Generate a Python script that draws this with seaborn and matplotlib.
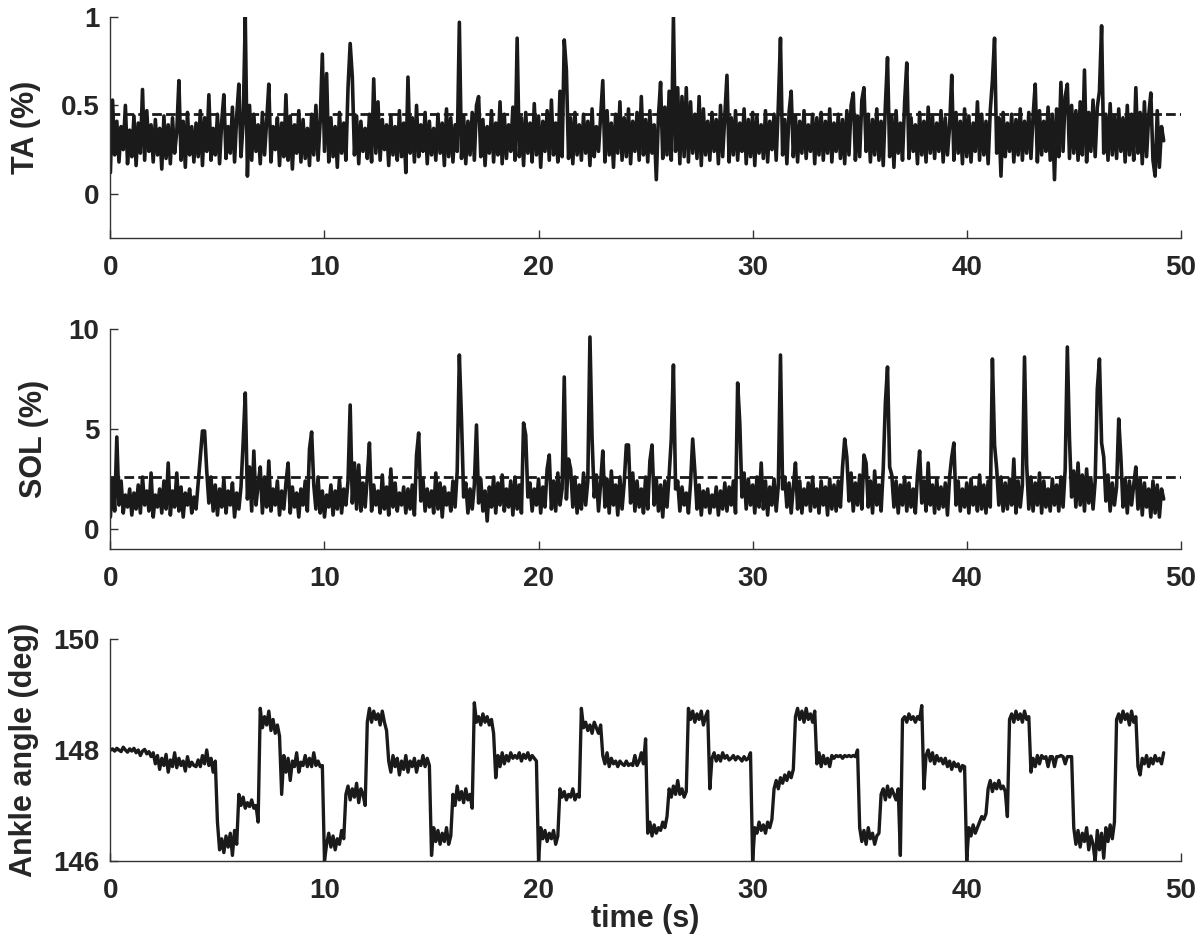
import numpy as np
import matplotlib.pyplot as plt
import seaborn as sns

# ------------------ Data (0.1 s steps) ------------------
dt = 0.1

# TA EMG (%), one row per second
ta = [
    0.12, 0.53, 0.22, 0.41, 0.18, 0.38, 0.25, 0.50, 0.17, 0.36,
    0.21, 0.44, 0.16, 0.40, 0.23, 0.59, 0.19, 0.47, 0.24, 0.39,
    0.18, 0.42, 0.22, 0.37, 0.14, 0.44, 0.20, 0.39, 0.17, 0.43,
    0.23, 0.35, 0.64, 0.19, 0.41, 0.15, 0.46, 0.22, 0.38, 0.18,
    0.40, 0.21, 0.47, 0.16, 0.43, 0.24, 0.56, 0.19, 0.37, 0.22,
    0.45, 0.17, 0.41, 0.56, 0.20, 0.38, 0.23, 0.49, 0.18, 0.44,
    0.62, 0.21, 0.40, 1.00, 0.10, 0.50, 0.19, 0.45, 0.24, 0.39,
    0.17, 0.46, 0.22, 0.41, 0.62, 0.18, 0.38, 0.25, 0.43, 0.16,
    0.40, 0.21, 0.56, 0.19, 0.44, 0.14, 0.39, 0.23, 0.47, 0.18,
    0.42, 0.20, 0.37, 0.16, 0.45, 0.22, 0.50, 0.19, 0.41, 0.79,
    0.24, 0.68, 0.18, 0.43, 0.21, 0.38, 0.15, 0.46, 0.23, 0.40,
    0.19, 0.60, 0.85, 0.66, 0.22, 0.44, 0.17, 0.41, 0.24, 0.37,
    0.20, 0.45, 0.18, 0.65, 0.23, 0.52, 0.19, 0.42, 0.25, 0.39,
    0.16, 0.44, 0.22, 0.38, 0.19, 0.47, 0.21, 0.40, 0.12, 0.66,
    0.23, 0.43, 0.18, 0.50, 0.21, 0.39, 0.24, 0.46, 0.17, 0.41,
    0.22, 0.37, 0.19, 0.45, 0.23, 0.40, 0.16, 0.48, 0.21, 0.43,
    0.18, 0.39, 0.24, 0.97, 0.20, 0.44, 0.17, 0.41, 0.22, 0.46,
    0.19, 0.50, 0.55, 0.21, 0.42, 0.16, 0.38, 0.23, 0.47, 0.18,
    0.40, 0.22, 0.52, 0.17, 0.45, 0.20, 0.39, 0.24, 0.49, 0.19,
    0.88, 0.21, 0.43, 0.16, 0.46, 0.23, 0.40, 0.18, 0.51, 0.22,
    0.44, 0.15, 0.41, 0.24, 0.47, 0.19, 0.53, 0.22, 0.40, 0.18,
    0.58, 0.21, 0.87, 0.70, 0.20, 0.43, 0.17, 0.46, 0.22, 0.39,
    0.19, 0.45, 0.23, 0.41, 0.16, 0.48, 0.21, 0.38, 0.24, 0.44,
    0.64, 0.18, 0.47, 0.22, 0.40, 0.15, 0.45, 0.23, 0.52, 0.19,
    0.43, 0.21, 0.48, 0.17, 0.41, 0.24, 0.46, 0.19, 0.55, 0.22,
    0.42, 0.18, 0.47, 0.23, 0.39, 0.08, 0.44, 0.63, 0.20, 0.49,
    0.22, 0.58, 0.19, 1.00, 0.24, 0.60, 0.17, 0.55, 0.21, 0.60,
    0.18, 0.52, 0.23, 0.45, 0.20, 0.55, 0.16, 0.48, 0.22, 0.41,
    0.19, 0.46, 0.24, 0.42, 0.17, 0.50, 0.21, 0.44, 0.67, 0.18,
    0.43, 0.22, 0.47, 0.19, 0.40, 0.24, 0.48, 0.17, 0.42, 0.21,
    0.46, 0.16, 0.44, 0.23, 0.39, 0.20, 0.47, 0.18, 0.41, 0.25,
    0.45, 0.19, 0.50, 0.88, 0.22, 0.42, 0.17, 0.46, 0.58, 0.21,
    0.44, 0.18, 0.41, 0.23, 0.47, 0.20, 0.39, 0.24, 0.45, 0.17,
    0.43, 0.22, 0.46, 0.19, 0.41, 0.23, 0.48, 0.18, 0.40, 0.24,
    0.45, 0.20, 0.42, 0.17, 0.47, 0.22, 0.50, 0.57, 0.19, 0.44,
    0.21, 0.53, 0.60, 0.24, 0.45, 0.18, 0.42, 0.22, 0.48, 0.19,
    0.41, 0.16, 0.50, 0.77, 0.21, 0.44, 0.15, 0.47, 0.23, 0.40,
    0.19, 0.52, 0.74, 0.20, 0.43, 0.24, 0.39, 0.17, 0.46, 0.22,
    0.41, 0.18, 0.49, 0.23, 0.44, 0.20, 0.40, 0.24, 0.47, 0.18,
    0.43, 0.22, 0.38, 0.67, 0.19, 0.46, 0.23, 0.41, 0.17, 0.48,
    0.21, 0.44, 0.18, 0.40, 0.24, 0.52, 0.19, 0.45, 0.22, 0.41,
    0.17, 0.47, 0.64, 0.88, 0.23, 0.43, 0.10, 0.46, 0.21, 0.40,
    0.24, 0.45, 0.18, 0.42, 0.22, 0.48, 0.19, 0.41, 0.23, 0.46,
    0.20, 0.44, 0.62, 0.18, 0.47, 0.22, 0.41, 0.24, 0.49, 0.19,
    0.45, 0.08, 0.48, 0.21, 0.63, 0.24, 0.55, 0.62, 0.20, 0.50,
    0.23, 0.47, 0.19, 0.52, 0.22, 0.70, 0.18, 0.46, 0.24, 0.53,
    0.21, 0.49, 0.58, 0.95, 0.23, 0.45, 0.19, 0.51, 0.22, 0.44,
    0.20, 0.48, 0.24, 0.43, 0.18, 0.50, 0.22, 0.45, 0.19, 0.60,
    0.23, 0.46, 0.17, 0.52, 0.21, 0.44, 0.57, 0.19, 0.10, 0.47,
    0.15, 0.38, 0.30,
]

# SOL EMG (%), one row per second
sol = [
    0.6, 2.5, 0.9, 4.6, 1.2, 2.4, 0.8, 1.7, 1.1, 2.0,
    0.7, 1.8, 1.0, 2.2, 0.8, 2.6, 1.2, 1.9, 0.9, 2.8,
    0.6, 1.7, 1.1, 2.0, 0.8, 2.4, 1.0, 3.3, 0.7, 1.9,
    1.1, 2.8, 0.9, 2.1, 0.6, 1.8, 1.2, 2.0, 0.8, 1.6,
    1.0, 2.3, 3.6, 4.9, 4.9, 2.9, 1.3, 2.6, 0.9, 2.2,
    0.7, 2.0, 1.1, 2.5, 0.8, 1.9, 1.2, 2.3, 0.6, 1.8,
    1.0, 2.1, 4.3, 6.8, 1.5, 3.1, 0.9, 3.9, 1.2, 2.2,
    3.1, 0.8, 2.6, 1.1, 3.4, 0.9, 2.0, 1.2, 2.4, 0.7,
    1.9, 1.0, 2.3, 3.3, 0.8, 2.1, 1.1, 1.8, 0.6, 2.0,
    1.2, 2.4, 0.9, 4.0, 4.85, 2.2, 1.0, 2.6, 0.8, 1.9,
    0.6, 1.7, 1.1, 2.2, 0.7, 1.9, 1.0, 2.5, 0.8, 2.0,
    1.2, 2.4, 6.2, 1.3, 3.3, 1.0, 3.2, 0.9, 2.3, 1.1,
    2.6, 4.3, 0.9, 2.2, 1.2, 1.9, 0.8, 2.7, 1.0, 2.1,
    0.7, 3.0, 1.1, 2.3, 0.9, 1.8, 1.2, 2.1, 0.8, 2.0,
    1.0, 2.2, 0.7, 3.7, 4.8, 1.4, 2.5, 0.9, 2.0, 1.1,
    1.9, 0.8, 2.8, 1.0, 2.3, 0.6, 2.1, 1.2, 1.8, 0.9,
    2.4, 1.1, 2.9, 8.7, 5.5, 1.6, 2.3, 0.8, 2.0, 1.0,
    2.2, 5.2, 1.3, 2.5, 0.9, 1.9, 0.4, 2.1, 1.1, 2.6,
    0.8, 2.3, 1.2, 2.7, 0.9, 2.0, 1.1, 2.4, 0.7, 2.6,
    1.0, 2.2, 0.8, 5.3, 4.7, 1.6, 2.3, 0.9, 2.0, 1.2,
    2.5, 0.8, 2.1, 1.1, 3.0, 3.7, 1.0, 2.4, 0.9, 2.8,
    1.2, 2.0, 7.6, 1.5, 3.5, 3.0, 1.1, 2.6, 0.8, 2.2,
    1.0, 2.8, 1.2, 2.4, 9.6, 4.5, 1.6, 2.7, 0.9, 2.3,
    3.9, 1.1, 2.5, 0.8, 2.9, 1.2, 2.2, 0.7, 2.6, 1.0,
    2.3, 4.2, 4.2, 1.3, 2.8, 0.9, 2.4, 1.1, 2.0, 0.8,
    2.6, 1.0, 3.4, 4.2, 1.2, 2.5, 0.9, 2.2, 0.6, 2.4,
    1.1, 2.7, 4.5, 8.2, 2.0, 2.4, 0.9, 2.1, 1.2, 1.8,
    0.8, 2.3, 4.5, 2.9, 1.0, 2.2, 0.7, 1.9, 1.1, 2.0,
    0.8, 1.7, 1.1, 2.1, 0.7, 1.9, 1.0, 2.3, 0.9, 2.1,
    1.2, 2.4, 0.8, 7.3, 5.3, 1.6, 2.8, 1.0, 2.5, 1.2,
    2.2, 0.8, 2.6, 1.1, 3.3, 1.0, 2.4, 0.7, 2.1, 1.2,
    2.5, 0.9, 2.2, 8.7, 2.0, 2.6, 1.1, 2.3, 0.8, 2.1,
    3.3, 1.0, 2.4, 0.8, 2.0, 1.2, 2.3, 0.9, 2.6, 1.1,
    2.0, 0.8, 2.4, 1.2, 2.1, 0.7, 2.5, 1.0, 2.2, 0.9,
    2.4, 1.1, 3.1, 4.5, 3.6, 1.4, 2.8, 0.9, 2.3, 1.2,
    2.7, 1.0, 3.7, 3.3, 1.1, 2.4, 0.8, 2.9, 1.2, 2.2,
    0.9, 3.0, 6.3, 8.1, 3.1, 2.7, 1.1, 2.4, 0.8, 2.2,
    1.2, 2.6, 0.9, 2.3, 1.1, 2.0, 0.8, 2.7, 3.9, 1.3,
    2.4, 0.9, 3.3, 1.2, 2.2, 0.8, 2.5, 1.0, 2.1, 1.1,
    2.3, 0.7, 2.6, 3.6, 4.3, 1.2, 2.4, 0.9, 2.0, 1.1,
    2.3, 0.8, 2.5, 1.2, 2.1, 0.9, 2.7, 1.0, 2.2, 0.8,
    2.4, 1.1, 8.5, 4.2, 3.0, 1.2, 2.6, 0.9, 2.3, 1.0,
    2.5, 1.2, 3.5, 0.8, 2.4, 1.1, 2.2, 8.6, 3.2, 1.0,
    2.6, 0.9, 2.3, 1.2, 2.8, 0.8, 2.4, 1.1, 2.0, 0.9,
    2.5, 1.2, 2.2, 0.9, 2.6, 1.1, 3.0, 9.1, 4.5, 1.6,
    2.9, 1.1, 3.3, 1.2, 2.7, 0.9, 3.0, 1.3, 2.5, 1.0,
    2.4, 7.0, 8.5, 4.3, 3.6, 1.4, 2.7, 0.9, 2.3, 1.2,
    2.1, 5.5, 3.6, 1.1, 2.5, 0.8, 2.4, 1.2, 2.2, 3.1,
    1.0, 2.5, 0.7, 2.3, 1.1, 2.0, 0.6, 2.4, 0.8, 2.2,
    0.6, 2.0, 1.5,
]

# ankle angle (deg), one row per second
ankle = [
    148.0, 148.02, 147.98, 148.03, 148.0, 147.97, 148.05, 148.0, 147.96, 148.02,
    147.98, 148.03, 147.95, 148.0, 147.9, 147.98, 148.01, 147.93, 147.97, 147.88,
    147.95, 147.75, 147.9, 147.65, 147.85, 147.72, 147.92, 147.6, 147.82, 147.7,
    147.95, 147.68, 147.85, 147.72, 147.8, 147.62, 147.88, 147.7, 147.78, 147.72,
    147.7, 147.82, 147.7, 147.9, 147.75, 148.0, 147.72, 147.85, 147.6, 147.8,
    146.7, 146.2, 146.4, 146.15, 146.45, 146.25, 146.5, 146.1, 146.55, 146.3,
    147.2, 147.0, 147.15, 146.95, 147.05, 146.98, 147.1, 146.95, 147.0, 146.7,
    148.75, 148.4, 148.6, 148.45, 148.7, 148.35, 148.55, 148.3, 148.45, 148.25,
    147.2, 147.9, 147.6, 147.85, 147.45, 147.8, 147.7, 147.95, 147.6, 147.78,
    147.72, 147.9, 147.7, 147.85, 147.7, 147.95, 147.72, 147.8, 147.7, 147.72,
    146.0, 146.3, 146.5, 146.25, 146.45, 146.2, 146.4, 146.3, 146.55, 146.4,
    147.2, 147.35, 147.1, 147.3, 147.15, 147.4, 147.05, 147.3, 147.2, 147.0,
    148.5, 148.75, 148.5, 148.7, 148.55, 148.65, 148.45, 148.7, 148.5, 148.35,
    147.8, 147.6, 147.9, 147.7, 147.85, 147.55, 147.8, 147.65, 147.9, 147.6,
    147.8, 147.7, 147.85, 147.6, 147.8, 147.72, 147.9, 147.7, 147.85, 147.72,
    146.1, 146.6, 146.35, 146.55, 146.3, 146.5, 146.35, 146.6, 146.3, 146.45,
    147.2, 147.0, 147.35, 147.1, 147.25, 147.05, 147.3, 147.1, 147.2, 146.95,
    148.85, 148.5, 148.6, 148.45, 148.65, 148.5, 148.6, 148.45, 148.55, 148.3,
    147.5, 147.9, 147.7, 147.95, 147.75, 147.9, 147.8, 147.95, 147.85, 147.9,
    147.85, 147.95, 147.8, 147.92, 147.85, 147.95, 147.82, 147.9, 147.85, 147.8,
    146.0, 146.6, 146.4, 146.55, 146.35, 146.5, 146.4, 146.55, 146.3, 146.45,
    147.3, 147.15, 147.25, 147.1, 147.2, 147.15, 147.3, 147.1, 147.2, 147.15,
    148.75, 148.4, 148.5, 148.35, 148.45, 148.3, 148.5, 148.4, 148.3, 148.45,
    147.9, 147.75, 147.95, 147.7, 147.85, 147.75, 147.8, 147.7, 147.8, 147.75,
    147.72, 147.8, 147.72, 147.75, 147.72, 147.9, 147.72, 147.8, 147.95, 147.75,
    148.2, 146.5, 146.7, 146.45, 146.65, 146.5, 146.6, 146.55, 146.7, 146.6,
    146.8, 147.3, 147.15, 147.35, 147.2, 147.45, 147.2, 147.3, 147.15, 147.25,
    148.75, 148.55, 148.7, 148.5, 148.65, 148.55, 148.7, 148.45, 148.6, 148.7,
    147.3, 147.85, 147.95, 147.8, 147.9, 147.8, 147.95, 147.85, 147.9, 147.82,
    147.85, 147.9, 147.82, 147.88, 147.85, 147.8, 147.88, 147.82, 147.85, 147.95,
    146.0, 146.6, 146.5, 146.7, 146.55, 146.65, 146.5, 146.7, 146.6, 146.75,
    147.3, 147.45, 147.3, 147.5, 147.4, 147.55, 147.45, 147.6, 147.5, 147.65,
    148.6, 148.75, 148.55, 148.7, 148.5, 148.75, 148.55, 148.65, 148.5, 148.7,
    147.75, 147.95, 147.7, 147.9, 147.75, 147.85, 147.7, 147.9, 147.85, 147.9,
    147.88, 147.9, 147.85, 147.9, 147.88, 147.9, 147.88, 147.9, 147.88, 148.0,
    146.6, 146.35, 146.55, 146.3, 146.6, 146.4, 146.5, 146.3, 146.45, 146.5,
    147.2, 147.3, 147.1, 147.35, 147.15, 147.3, 147.2, 147.1, 147.3, 146.1,
    148.55, 148.6, 148.5, 148.65, 148.55, 148.6, 148.5, 148.6, 148.55, 148.8,
    147.3, 147.9, 148.0, 147.8, 147.95, 147.75, 147.9, 147.8, 147.85, 147.75,
    147.85, 147.7, 147.8, 147.65, 147.78, 147.7, 147.75, 147.62, 147.72, 147.7,
    146.0, 146.6, 146.45, 146.65, 146.5, 146.6, 146.7, 146.8, 146.75, 146.85,
    147.3, 147.45, 147.25, 147.4, 147.3, 147.45, 147.3, 147.35, 147.25, 146.8,
    148.55, 148.65, 148.5, 148.7, 148.55, 148.65, 148.5, 148.7, 148.55, 148.6,
    147.6, 147.85, 147.7, 147.9, 147.75, 147.9, 147.85, 147.88, 147.7, 147.88,
    147.88, 147.7, 147.88, 147.88, 147.9, 147.88, 147.75, 147.88, 147.88, 147.88,
    146.6, 146.3, 146.55, 146.25, 146.5, 146.35, 146.6, 146.2, 146.45, 146.3,
    146.0, 146.55, 146.2, 146.5, 146.05, 146.6, 146.35, 146.65, 146.4, 146.7,
    148.55, 148.65, 148.5, 148.7, 148.55, 148.65, 148.45, 148.7, 148.5, 148.6,
    147.7, 147.55, 147.85, 147.75, 147.9, 147.7, 147.85, 147.75, 147.9, 147.8,
    147.85, 147.75, 147.95,
]

ta_threshold = 0.45
sol_threshold = 2.6

x_ticks = [0, 10, 20, 30, 40, 50]
ta_ticks = [0, 0.5, 1]
ta_ticklabels = ['0', '0.5', '1']
sol_ticks = [0, 5, 10]
ankle_ticks = [146, 148, 150]

time_ta = np.arange(len(ta)) * dt
time_sol = np.arange(len(sol)) * dt
time_ankle = np.arange(len(ankle)) * dt

# ------------------ Style ------------------
sns.set_style('ticks')
plt.rcParams['font.family'] = ['Liberation Sans', 'DejaVu Sans']
plt.rcParams['font.weight'] = 'bold'
plt.rcParams['axes.labelweight'] = 'bold'

line_color = '#1a1a1a'
axis_color = '#333333'
tick_size = 20
label_size = 22
emg_lw = 2.6
ankle_lw = 2.4

fig = plt.figure(figsize=(12, 9.43), dpi=100)
ax_ta = fig.add_axes([0.092, 0.7476, 0.892, 0.2344])
ax_sol = fig.add_axes([0.092, 0.4178, 0.892, 0.2333])
ax_ank = fig.add_axes([0.092, 0.0870, 0.892, 0.2354])

# TA
ax_ta.axhline(ta_threshold, color=line_color, lw=2, dashes=(3.5, 1.5), zorder=1)
sns.lineplot(x=time_ta, y=ta, ax=ax_ta, color=line_color, lw=emg_lw,
             estimator=None, sort=False, zorder=2)
ax_ta.set_ylim(-0.25, 1)
ax_ta.set_yticks(ta_ticks)
ax_ta.set_yticklabels(ta_ticklabels)
ax_ta.set_ylabel('TA (%)', fontsize=label_size, labelpad=14)

# SOL
ax_sol.axhline(sol_threshold, color=line_color, lw=2, dashes=(3.5, 1.5), zorder=1)
sns.lineplot(x=time_sol, y=sol, ax=ax_sol, color=line_color, lw=emg_lw,
             estimator=None, sort=False, zorder=2)
ax_sol.set_ylim(-1, 10)
ax_sol.set_yticks(sol_ticks)
ax_sol.set_ylabel('SOL (%)', fontsize=label_size, labelpad=14)

# ankle angle
sns.lineplot(x=time_ankle, y=ankle, ax=ax_ank, color=line_color, lw=ankle_lw,
             estimator=None, sort=False, zorder=2)
ax_ank.set_ylim(146, 150)
ax_ank.set_yticks(ankle_ticks)
ax_ank.set_ylabel('Ankle angle (deg)', fontsize=label_size, labelpad=10)
ax_ank.set_xlabel('time (s)', fontsize=label_size, labelpad=0)

for ax in (ax_ta, ax_sol, ax_ank):
    ax.set_xlim(0, 50)
    ax.set_xticks(x_ticks)
    sns.despine(ax=ax)
    for side in ('left', 'bottom'):
        ax.spines[side].set_color(axis_color)
        ax.spines[side].set_linewidth(1.0)
    ax.tick_params(direction='in', length=6, width=1, color=axis_color,
                   labelsize=tick_size, pad=8, left=True, bottom=True)
    ax.tick_params(axis='x', pad=12)
    for lab in ax.get_xticklabels() + ax.get_yticklabels():
        lab.set_fontweight('bold')

fig.savefig('out.png', dpi=100)
